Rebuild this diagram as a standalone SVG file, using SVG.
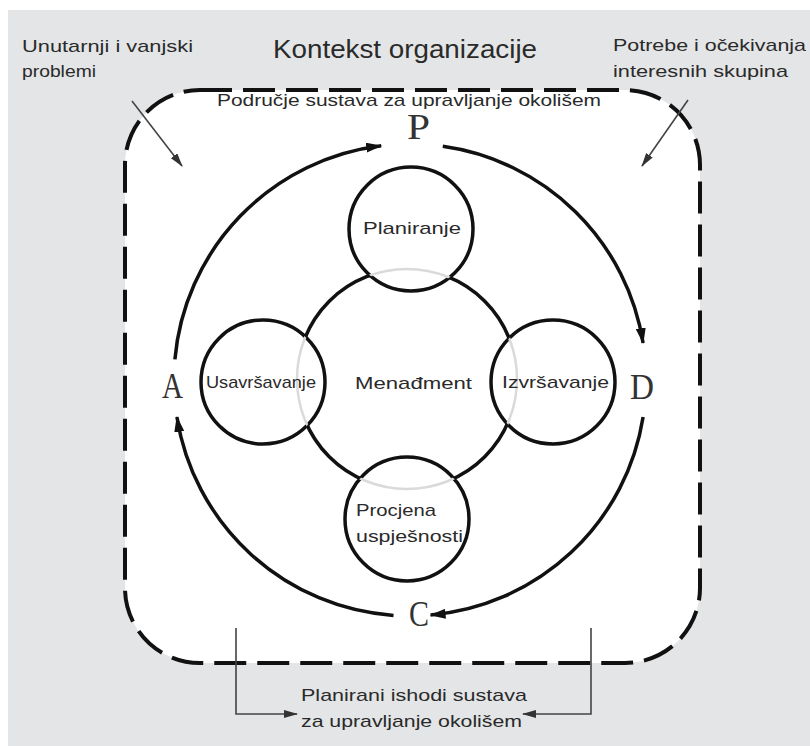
<svg xmlns="http://www.w3.org/2000/svg" width="810" height="746" viewBox="0 0 810 746">
  <style>
    .lbl { font-family: "Liberation Sans", Arial, sans-serif; fill: #2a2a2a; }
    .big { font-family: "Liberation Serif", "Times New Roman", serif; fill: #333; font-size: 35px; }
    .ring { fill: none; stroke: #111; stroke-width: 3.5; }
    .node { fill: #fff; stroke: #111; stroke-width: 3.5; }
    .thin { fill: none; stroke: #444; stroke-width: 1.6; }
  </style>
  <defs>
    <marker id="ah" markerUnits="userSpaceOnUse" viewBox="0 0 16 10" markerWidth="16" markerHeight="10" refX="15" refY="5" orient="auto">
      <path d="M0,0 L16,5 L0,10 z" fill="#111"/>
    </marker>
    <marker id="ahs" markerUnits="userSpaceOnUse" viewBox="0 0 14 8" markerWidth="14" markerHeight="8" refX="13" refY="4" orient="auto">
      <path d="M0,0 L14,4 L0,8 z" fill="#333"/>
    </marker>
    <clipPath id="nodesClip">
      <circle cx="411" cy="229" r="62"/>
      <circle cx="263" cy="382" r="62"/>
      <circle cx="553" cy="382" r="62"/>
      <circle cx="407" cy="519" r="62"/>
    </clipPath>
  </defs>

  <rect x="0" y="0" width="810" height="746" fill="#ffffff"/>
  <rect x="8" y="10" width="802" height="736" fill="#e4e5e7"/>

  <g id="scope">
    <rect x="125" y="90" width="575" height="573" rx="75" ry="75" fill="#ffffff" stroke="#111" stroke-width="4" stroke-dasharray="32 11"/>
  </g>

  <g id="connectors">
    <path class="ring" d="M174.9,359.4 A236,236 0 0 1 381.2,145.8" marker-end="url(#ah)"/>
    <path class="ring" d="M442.8,146.3 A236,236 0 0 1 643.1,343.1" marker-end="url(#ah)"/>
    <path class="ring" d="M643.1,416.9 A236,236 0 0 1 430.6,615.1" marker-end="url(#ah)"/>
    <path class="ring" d="M393.5,615.4 A236,236 0 0 1 176.9,416.9" marker-end="url(#ah)"/>
    <line class="thin" x1="132" y1="101" x2="182" y2="166" marker-end="url(#ahs)"/>
    <line class="thin" x1="688" y1="100" x2="642" y2="166" marker-end="url(#ahs)"/>
    <polyline class="thin" points="236,628 236,714 297,714" marker-end="url(#ahs)"/>
    <polyline class="thin" points="591,628 591,714 523,714" marker-end="url(#ahs)"/>
  </g>

  <g id="management">
    <circle class="ring" cx="407" cy="379" r="110"/>
  </g>
  <g id="planiranje">
    <circle class="node" cx="411" cy="229" r="62"/>
  </g>
  <g id="usavrsavanje">
    <circle class="node" cx="263" cy="382" r="62"/>
  </g>
  <g id="izvrsavanje">
    <circle class="node" cx="553" cy="382" r="62"/>
  </g>
  <g id="procjena">
    <circle class="node" cx="407" cy="519" r="62"/>
  </g>
  <circle cx="407" cy="379" r="110" fill="none" stroke="#dadada" stroke-width="2.5" clip-path="url(#nodesClip)"/>

  <g id="labels">
    <text class="lbl" x="22" y="52" font-size="17" textLength="171" lengthAdjust="spacingAndGlyphs">Unutarnji i vanjski</text>
    <text class="lbl" x="22" y="77" font-size="17" textLength="74" lengthAdjust="spacingAndGlyphs">problemi</text>
    <text class="lbl" x="273" y="58" font-size="26" textLength="264" lengthAdjust="spacingAndGlyphs">Kontekst organizacije</text>
    <text class="lbl" x="613" y="51" font-size="17" textLength="193" lengthAdjust="spacingAndGlyphs">Potrebe i očekivanja</text>
    <text class="lbl" x="613" y="77" font-size="17" textLength="175" lengthAdjust="spacingAndGlyphs">interesnih skupina</text>
    <text class="lbl" x="217" y="106" font-size="17" textLength="384" lengthAdjust="spacingAndGlyphs">Područje sustava za upravljanje okolišem</text>
    <text class="lbl" x="363" y="234" font-size="17" textLength="98" lengthAdjust="spacingAndGlyphs">Planiranje</text>
    <text class="lbl" x="206" y="388" font-size="17" textLength="110" lengthAdjust="spacingAndGlyphs">Usavršavanje</text>
    <text class="lbl" x="355" y="389" font-size="17" textLength="117" lengthAdjust="spacingAndGlyphs">Menađment</text>
    <text class="lbl" x="502" y="388" font-size="17" textLength="107" lengthAdjust="spacingAndGlyphs">Izvršavanje</text>
    <text class="lbl" x="356" y="516" font-size="17" textLength="80" lengthAdjust="spacingAndGlyphs">Procjena</text>
    <text class="lbl" x="356" y="542" font-size="17" textLength="107" lengthAdjust="spacingAndGlyphs">uspješnosti</text>
    <text class="lbl" x="301" y="701" font-size="17" textLength="226" lengthAdjust="spacingAndGlyphs">Planirani ishodi sustava</text>
    <text class="lbl" x="301" y="727" font-size="17" textLength="221" lengthAdjust="spacingAndGlyphs">za upravljanje okolišem</text>
    <text class="big" x="407" y="139" font-size="32" textLength="23" lengthAdjust="spacingAndGlyphs">P</text>
    <text class="big" x="630" y="399" textLength="24" lengthAdjust="spacingAndGlyphs">D</text>
    <text class="big" x="409" y="626" textLength="20" lengthAdjust="spacingAndGlyphs">C</text>
    <text class="big" x="162" y="398" textLength="21" lengthAdjust="spacingAndGlyphs">A</text>
  </g>
</svg>
